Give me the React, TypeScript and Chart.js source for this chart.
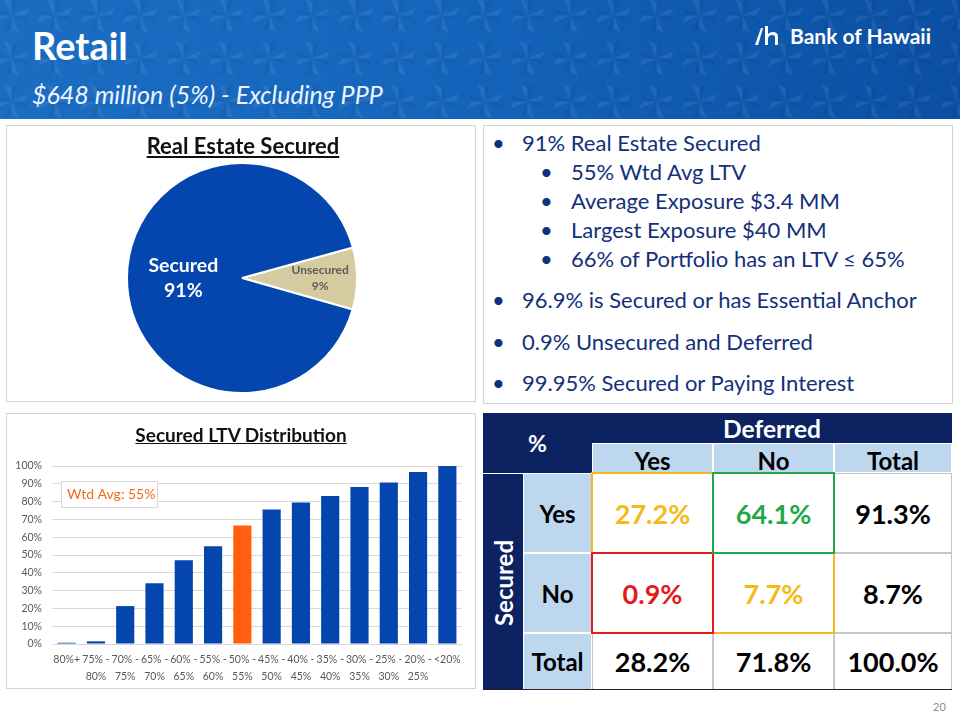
import React, { useEffect, useRef } from "react";
import { Chart, registerables } from "chart.js";

Chart.register(...registerables);

// ---------- data ----------
const pieLabels = ["Unsecured", "Secured"];
const pieValues = [8.7, 91.3];
const pieDisplay = ["9%", "91%"];
const pieColors = ["#d5cba0", "#0445ae"];

const ltvLabels: string[][] = [
  ["80%+"],
  ["75% -", "80%"],
  ["70% -", "75%"],
  ["65% -", "70%"],
  ["60% -", "65%"],
  ["55% -", "60%"],
  ["50% -", "55%"],
  ["45% -", "50%"],
  ["40% -", "45%"],
  ["35% -", "40%"],
  ["30% -", "35%"],
  ["25% -", "30%"],
  ["20% -", "25%"],
  ["<20%"],
];
const ltvValues = [0.7, 1.5, 21.3, 34.1, 47.0, 54.9, 66.6, 75.6, 79.5, 83.2, 88.2, 90.7, 96.6, 100];
const highlightIndex = 6;
const wtdAvgText = "Wtd Avg: 55%";

const bulletsMain = [
  { text: "91% Real Estate Secured", level: 0, base: 152 },
  { text: "55% Wtd Avg LTV", level: 1, base: 181 },
  { text: "Average Exposure $3.4 MM", level: 1, base: 210 },
  { text: "Largest Exposure $40 MM", level: 1, base: 239 },
  { text: "66% of Portfolio has an LTV \u2264 65%", level: 1, base: 268 },
  { text: "96.9% is Secured or has Essential Anchor", level: 0, base: 309 },
  { text: "0.9% Unsecured and Deferred", level: 0, base: 351 },
  { text: "99.95% Secured or Paying Interest", level: 0, base: 392 },
];

const tableColHeaders = ["Yes", "No", "Total"];
const tableRowHeaders = ["Yes", "No", "Total"];
const tableValues = [
  ["27.2%", "64.1%", "91.3%"],
  ["0.9%", "7.7%", "8.7%"],
  ["28.2%", "71.8%", "100.0%"],
];

const FONT = "Lato, 'Open Sans', sans-serif";
const NAVY = "#0d2361";
const LIGHTBLUE = "#bdd7ee";
const GOLD = "#f5b919";
const GREEN = "#22a84a";
const RED = "#e31b1b";
const TEXT_NAVY = "#13307a";

const tileSvg =
  "<svg xmlns='http://www.w3.org/2000/svg' width='43' height='43' viewBox='0 0 43 43'>" +
  "<g fill='white' fill-opacity='0.07'>" +
  "<path d='M21.5 21.5 L14 4 L21.5 8 Z'/>" +
  "<path d='M21.5 21.5 L39 14 L35 21.5 Z'/>" +
  "<path d='M21.5 21.5 L29 39 L21.5 35 Z'/>" +
  "<path d='M21.5 21.5 L4 29 L8 21.5 Z'/>" +
  "</g><g fill='black' fill-opacity='0.05'>" +
  "<path d='M21.5 21.5 L29 4 L21.5 8 Z'/>" +
  "<path d='M21.5 21.5 L39 29 L35 21.5 Z'/>" +
  "<path d='M21.5 21.5 L14 39 L21.5 35 Z'/>" +
  "<path d='M21.5 21.5 L4 14 L8 21.5 Z'/>" +
  "</g></svg>";
const tileUrl = `url("data:image/svg+xml,${encodeURIComponent(tileSvg)}")`;

// ---------- pie ----------
function PieChart() {
  const ref = useRef<HTMLCanvasElement>(null);
  useEffect(() => {
    const labelPlugin = {
      id: "pieInsideLabels",
      afterDatasetsDraw(chart: any) {
        const ctx = chart.ctx;
        const meta = chart.getDatasetMeta(0);
        meta.data.forEach((arc: any, i: number) => {
          const p = arc.getProps(["x", "y", "startAngle", "endAngle", "outerRadius"], true);
          const mid = (p.startAngle + p.endAngle) / 2;
          const f = i === 0 ? 0.68 : 0.51;
          const cx = p.x + Math.cos(mid) * p.outerRadius * f;
          const cy = p.y + Math.sin(mid) * p.outerRadius * f;
          ctx.save();
          ctx.textAlign = "center";
          ctx.textBaseline = "middle";
          if (i === 0) {
            ctx.fillStyle = "#5b5b5b";
            ctx.font = `bold 12px ${FONT}`;
            ctx.fillText(pieLabels[i], cx, cy - 8);
            ctx.fillText(pieDisplay[i], cx, cy + 8);
          } else {
            ctx.fillStyle = "#ffffff";
            ctx.font = `bold 19.5px ${FONT}`;
            ctx.fillText(pieLabels[i], cx, cy - 12);
            ctx.fillText(pieDisplay[i], cx, cy + 13);
          }
          ctx.restore();
        });
      },
    };
    const chart = new Chart(ref.current!, {
      type: "pie",
      data: {
        labels: pieLabels,
        datasets: [
          {
            data: pieValues,
            backgroundColor: pieColors,
            borderColor: "#ffffff",
            borderWidth: 2,
          },
        ],
      },
      options: {
        animation: false,
        responsive: false,
        rotation: 74.6,
        radius: 115,
        plugins: { legend: { display: false }, tooltip: { enabled: false } },
        events: [],
      },
      plugins: [labelPlugin],
    });
    return () => chart.destroy();
  }, []);
  return (
    <canvas
      ref={ref}
      width={260}
      height={260}
      style={{ position: "absolute", left: 112, top: 148, width: 260, height: 260 }}
    />
  );
}

// ---------- bar ----------
function BarChart() {
  const ref = useRef<HTMLCanvasElement>(null);
  useEffect(() => {
    const boxPlugin = {
      id: "wtdAvgBox",
      afterDraw(chart: any) {
        const { ctx, chartArea } = chart;
        const x = chartArea.left + 9;
        const y = chartArea.top + 15;
        ctx.save();
        ctx.fillStyle = "#ffffff";
        ctx.fillRect(x, y, 96, 26);
        ctx.strokeStyle = "#d9d9d9";
        ctx.lineWidth = 1;
        ctx.strokeRect(x + 0.5, y + 0.5, 96, 26);
        ctx.fillStyle = "#f26b21";
        ctx.font = `14px ${FONT}`;
        ctx.textAlign = "left";
        ctx.textBaseline = "middle";
        ctx.fillText(wtdAvgText, x + 6, y + 13.5);
        ctx.restore();
      },
    };
    const colors = ltvValues.map((_, i) => (i === highlightIndex ? "#ff5f0f" : "#0445ae"));
    const chart = new Chart(ref.current!, {
      type: "bar",
      data: {
        labels: ltvLabels,
        datasets: [
          {
            data: ltvValues,
            backgroundColor: colors,
            barPercentage: 0.62,
            categoryPercentage: 1,
          },
        ],
      },
      options: {
        animation: false,
        responsive: false,
        events: [],
        layout: { padding: { top: 53, right: 14, bottom: 2, left: 0 } },
        plugins: { legend: { display: false }, tooltip: { enabled: false } },
        scales: {
          x: {
            grid: { display: false, drawTicks: false },
            border: { display: false },
            ticks: {
              color: "#595959",
              font: { family: FONT, size: 10.5, lineHeight: 1.6 },
              padding: 7,
              maxRotation: 0,
              autoSkip: false,
            },
            afterFit: (s: any) => {
              s.height = 42;
            },
          },
          y: {
            min: 0,
            max: 100,
            grid: { color: "#d9d9d9", drawTicks: false },
            border: { display: false },
            ticks: {
              stepSize: 10,
              color: "#595959",
              font: { family: FONT, size: 10.5 },
              padding: 10,
              callback: (v: any) => v + "%",
            },
            afterFit: (s: any) => {
              s.width = 46;
            },
          },
        },
      },
      plugins: [boxPlugin],
    });
    return () => chart.destroy();
  }, []);
  return (
    <canvas
      ref={ref}
      width={470}
      height={275}
      style={{ position: "absolute", left: 6, top: 413, width: 470, height: 275 }}
    />
  );
}

// ---------- helpers ----------
function Text({
  x,
  base,
  size,
  children,
  style,
}: {
  x: number;
  base: number;
  size: number;
  children: any;
  style?: any;
}) {
  return (
    <div
      style={{
        position: "absolute",
        left: x,
        top: base - 0.887 * size,
        fontSize: size,
        lineHeight: 1,
        whiteSpace: "nowrap",
        ...style,
      }}
    >
      {children}
    </div>
  );
}

function Cell({ x0, x1, y0, y1, bg, color, size, border, children }: any) {
  return (
    <div
      style={{
        position: "absolute",
        left: x0,
        top: y0,
        width: x1 - x0,
        height: y1 - y0,
        background: bg,
        color,
        fontSize: size,
        fontWeight: 700,
        display: "flex",
        alignItems: "center",
        justifyContent: "center",
        boxSizing: "border-box",
        border: `1px solid ${border}`,
      }}
    >
      {children}
    </div>
  );
}

function Table() {
  const xs = [483, 523, 592, 713, 834, 952];
  const ys = [413, 443, 473, 553, 633, 690];
  const valColor = [
    [GOLD, GREEN, "#000"],
    [RED, GOLD, "#000"],
    ["#000", "#000", "#000"],
  ];
  const highlights = [
    { c: 0, r: 0, color: GOLD },
    { c: 1, r: 1, color: GOLD },
    { c: 0, r: 1, color: RED },
    { c: 1, r: 0, color: GREEN },
  ];
  return (
    <>
      <Cell x0={xs[0]} x1={xs[2]} y0={ys[0]} y1={ys[2]} bg={NAVY} color="#fff" size={23} border={NAVY}>
        %
      </Cell>
      <Cell x0={xs[2]} x1={xs[5]} y0={ys[0]} y1={ys[1]} bg={NAVY} color="#fff" size={24.5} border={NAVY}>
        Deferred
      </Cell>
      {tableColHeaders.map((h, i) => (
        <Cell key={h} x0={xs[2 + i]} x1={xs[3 + i]} y0={ys[1]} y1={ys[2]} bg={LIGHTBLUE} color="#000" size={24} border="#ffffff">
          <span style={{ position: "relative", top: 2 }}>{h}</span>
        </Cell>
      ))}
      <div
        style={{
          position: "absolute",
          left: xs[0],
          top: ys[2],
          width: xs[1] - xs[0],
          height: ys[5] - ys[2],
          background: NAVY,
          borderTop: "1px solid #fff",
          boxSizing: "border-box",
        }}
      >
        <div
          style={{
            position: "absolute",
            left: "50%",
            top: 109,
            transform: "translate(-50%, -50%) rotate(-90deg)",
            color: "#fff",
            fontWeight: 700,
            fontSize: 24,
            whiteSpace: "nowrap",
          }}
        >
          Secured
        </div>
      </div>
      {tableRowHeaders.map((h, r) => (
        <Cell key={"r" + h} x0={xs[1]} x1={xs[2]} y0={ys[2 + r]} y1={ys[3 + r]} bg={LIGHTBLUE} color="#000" size={24} border="#ffffff">
          {h}
        </Cell>
      ))}
      {tableValues.map((row, r) =>
        row.map((v, c) => (
          <Cell
            key={r + "-" + c}
            x0={xs[2 + c]}
            x1={xs[3 + c]}
            y0={ys[2 + r]}
            y1={ys[3 + r]}
            bg="#fff"
            color={valColor[r][c]}
            size={27}
            border="#c6c6c6"
          >
            {v}
          </Cell>
        ))
      )}
      {highlights.map((h, i) => (
        <div
          key={"h" + i}
          style={{
            position: "absolute",
            left: xs[2 + h.c] - 1,
            top: ys[2 + h.r] - 1,
            width: xs[3 + h.c] - xs[2 + h.c] + 2,
            height: ys[3 + h.r] - ys[2 + h.r] + 2,
            border: `2.5px solid ${h.color}`,
            boxSizing: "border-box",
          }}
        />
      ))}
      <div style={{ position: "absolute", left: xs[0], top: ys[5] - 1, width: xs[5] - xs[0], height: 0, borderTop: "1.5px solid #222" }} />
    </>
  );
}

export default function App() {
  const panel = (l: number, t: number, r: number, b: number) => ({
    position: "absolute" as const,
    left: l,
    top: t,
    width: r - l,
    height: b - t,
    border: "1px solid #d4d4d4",
    boxSizing: "border-box" as const,
  });
  return (
    <div
      style={{
        position: "absolute",
        left: 0,
        top: 0,
        width: 960,
        height: 720,
        overflow: "hidden",
        background: "#fff",
        fontFamily: FONT,
      }}
    >
      {/* header */}
      <div
        style={{
          position: "absolute",
          left: 0,
          top: 0,
          width: 960,
          height: 119,
          backgroundImage: `${tileUrl}, linear-gradient(90deg, #1b6dc2 0%, #1565bd 45%, #0b4fa3 100%)`,
          backgroundSize: "43px 43px, 100% 100%",
          backgroundPosition: "-10px -6px, 0 0",
        }}
      />
      <Text x={32} base={60} size={38} style={{ color: "#fff", fontWeight: 700 }}>
        Retail
      </Text>
      <Text x={32} base={104} size={25} style={{ color: "#eef4ff", fontStyle: "italic" }}>
        $648 million (5%) - Excluding PPP
      </Text>
      <svg style={{ position: "absolute", left: 754, top: 24 }} width={30} height={24} viewBox="0 0 30 24">
        <path d="M1 21 L7 4 L9 4 L4 21 Z" fill="#fff" />
        <path d="M11 2 L14 2 L14 10 Q16 8 19 8 Q24 8 24 13 L24 21 L21 21 L21 13 Q21 11 18.5 11 Q14 11 14 15 L14 21 L11 21 Z" fill="#fff" />
      </svg>
      <Text x={790} base={44} size={21} style={{ color: "#fff", fontWeight: 700 }}>
        Bank of Hawaii
      </Text>

      {/* panels */}
      <div style={panel(6, 125, 476, 402)} />
      <div style={panel(483, 125, 953, 404)} />
      <div style={panel(6, 413, 476, 689)} />

      {/* pie */}
      <PieChart />
      <Text x={0} base={155} size={22} style={{ width: 486, textAlign: "center", fontWeight: 700, textDecoration: "underline", color: "#111" }}>
        Real Estate Secured
      </Text>

      {/* bullets */}
      {bulletsMain.map((b, i) => (
        <React.Fragment key={i}>
          <Text x={b.level === 0 ? 492 : 540} base={b.base} size={22} style={{ color: TEXT_NAVY }}>
            {"\u2022"}
          </Text>
          <Text x={b.level === 0 ? 522 : 571} base={b.base} size={22} style={{ color: TEXT_NAVY }}>
            {b.text}
          </Text>
        </React.Fragment>
      ))}

      {/* bar */}
      <BarChart />
      <Text x={0} base={442} size={19} style={{ width: 482, textAlign: "center", fontWeight: 700, textDecoration: "underline", color: "#111" }}>
        Secured LTV Distribution
      </Text>

      {/* table */}
      <Table />

      <Text x={933} base={711} size={11} style={{ color: "#8c8c8c" }}>
        20
      </Text>
    </div>
  );
}
